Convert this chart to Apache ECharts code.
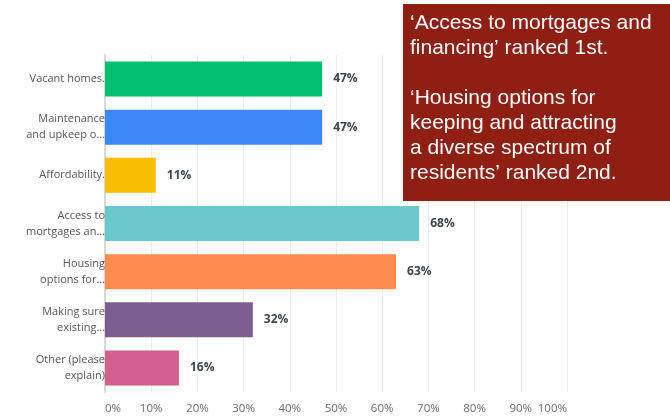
<!DOCTYPE html>
<html><head><meta charset="utf-8">
<script src="https://cdn.jsdelivr.net/npm/echarts@6/dist/echarts.min.js"></script>
<style>html,body{margin:0;padding:0;background:#fff}#c{width:670px;height:417px}</style>
</head><body><div id="c"></div>
<script>
var categories = ['Vacant homes.', 'Maintenance\nand upkeep o…', 'Affordability.', 'Access to\nmortgages an…', 'Housing\noptions for…', 'Making sure\nexisting…', 'Other (please\nexplain)'];
var values = [47, 47, 11, 68, 63, 32, 16];
var colors = ['#00BF6F', '#3B87F7', '#F9BE00', '#6BC8CD', '#FF8B4F', '#7D5E90', '#D25F90'];
var noteLines = ['‘Access to mortgages and', 'financing’ ranked 1st.', '', '‘Housing options for', 'keeping and attracting', 'a diverse spectrum of', 'residents’ ranked 2nd.'];

var FONT = '"Open Sans", "Noto Sans", sans-serif';
var chart = echarts.init(document.getElementById('c'), null, {renderer: 'canvas'});
chart.setOption({
  animation: false,
  grid: {left: 105, right: 103, top: 55, bottom: 25},
  xAxis: {
    type: 'value', min: 0, max: 100, interval: 10,
    axisLine: {show: false}, axisTick: {show: false},
    splitLine: {lineStyle: {color: '#ebebeb', width: 1}},
    axisLabel: {formatter: '{value}%', color: '#6b6b6b', fontSize: 11.5, fontFamily: FONT, margin: 11, alignMinLabel: 'left', alignMaxLabel: 'right'}
  },
  yAxis: {
    type: 'category', data: categories, inverse: true,
    axisLine: {show: true, lineStyle: {color: '#d9d9d9', width: 2}},
    axisTick: {show: false},
    axisLabel: {color: '#555', fontSize: 11, lineHeight: 16, fontFamily: FONT, margin: 0, align: 'right'}
  },
  series: [{
    type: 'bar', barWidth: 35,
    data: values.map(function (v, i) { return {value: v, itemStyle: {color: colors[i]}}; }),
    label: {show: true, position: 'right', distance: 11, formatter: '{c}%', color: '#3d4550', fontWeight: 'bold', fontSize: 12, fontFamily: FONT}
  }],
  graphic: [
    {type: 'rect', left: 403, top: 4, shape: {width: 267, height: 197}, style: {fill: '#8E1F12'}, z: 10},
    {type: 'text', left: 410, top: 11, z: 11, style: {text: noteLines.join('\n'), fill: '#fff', font: '21px "Liberation Sans", Arial, sans-serif', lineHeight: 25}}
  ]
});
</script></body></html>
